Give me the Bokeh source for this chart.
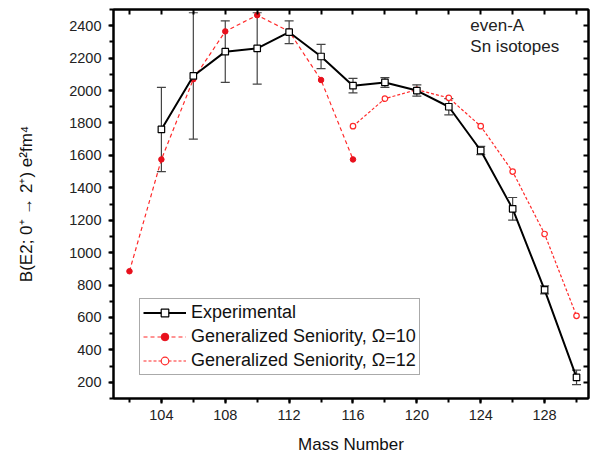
from bokeh.plotting import figure
from bokeh.models import (ColumnDataSource, Whisker, TeeHead, Legend, LegendItem,
                          LinearAxis, SingleIntervalTicker, FixedTicker, Label, Range1d)
from bokeh.embed import file_html
from bokeh.resources import INLINE

# ---- data ----
mass_exp = [104, 106, 108, 110, 112, 114, 116, 118, 120, 122, 124, 126, 128, 130]
be2_exp = [1760, 2090, 2240, 2260, 2360, 2210, 2030, 2050, 2000, 1900, 1630, 1270, 770, 230]
err_exp = [260, 390, 190, 220, 70, 75, 45, 30, 35, 50, 25, 70, 25, 45]

mass_o10 = [102, 104, 106, 108, 110, 112, 114, 116]
be2_o10 = [885, 1575, 2070, 2365, 2465, 2365, 2065, 1575]

mass_o12 = [116, 118, 120, 122, 124, 126, 128, 130]
be2_o12 = [1780, 1950, 2005, 1955, 1780, 1500, 1115, 610]

x_minor_ticks = list(range(102, 131, 2))
y_minor_ticks = list(range(200, 2500, 100))

FONT = "Liberation Sans"

src_exp = ColumnDataSource(dict(
    x=mass_exp, y=be2_exp,
    upper=[v + e for v, e in zip(be2_exp, err_exp)],
    lower=[v - e for v, e in zip(be2_exp, err_exp)],
))
src_o10 = ColumnDataSource(dict(x=mass_o10, y=be2_o10))
src_o12 = ColumnDataSource(dict(x=mass_o12, y=be2_o12))

p = figure(width=593, height=456, output_backend="svg", toolbar_location=None,
           x_range=Range1d(101, 130.75), y_range=Range1d(100, 2500),
           min_border_left=113, min_border_right=5, min_border_top=9, min_border_bottom=56)
p.grid.visible = False
p.outline_line_color = "black"
p.outline_line_width = 2
p.background_fill_color = "white"
p.border_fill_color = "white"

p.xaxis.ticker = SingleIntervalTicker(interval=4, num_minor_ticks=2)
p.yaxis.ticker = SingleIntervalTicker(interval=200, num_minor_ticks=2)

for ax in (p.xaxis[0], p.yaxis[0]):
    ax.axis_line_width = 2
    ax.axis_line_color = "black"
    ax.major_tick_line_width = 2
    ax.minor_tick_line_width = 2
    ax.major_tick_in = 0
    ax.major_tick_out = 5
    ax.minor_tick_in = 0
    ax.minor_tick_out = 4
    ax.major_label_text_font = FONT
    ax.major_label_text_font_size = "14.5px"
    ax.major_label_text_color = "#222222"
    ax.axis_label_text_font = FONT
    ax.axis_label_text_font_style = "normal"
    ax.axis_label_text_color = "#111111"

p.xaxis.axis_label = "Mass Number"
p.xaxis.axis_label_text_font_size = "17px"
p.xaxis.major_label_standoff = 6
p.xaxis.axis_label_standoff = 12

p.yaxis.axis_label = "B(E2; 0\u207a \u2192 2\u207a) e\u00b2fm\u2074"
p.yaxis.axis_label_text_font_size = "17px"
p.yaxis.major_label_standoff = 7
p.yaxis.axis_label_standoff = 30

# mirrored axes (top / right) with inward ticks only, no labels
top = LinearAxis(ticker=FixedTicker(ticks=[], minor_ticks=x_minor_ticks))
right = LinearAxis(ticker=FixedTicker(ticks=[], minor_ticks=y_minor_ticks))
for ax in (top, right):
    ax.major_label_standoff = 0
    ax.axis_line_width = 2
    ax.minor_tick_line_width = 2
    ax.major_tick_in = 0
    ax.major_tick_out = 0
    ax.minor_tick_in = 5
    ax.minor_tick_out = 0
p.add_layout(top, "above")
p.add_layout(right, "right")

# ---- glyphs ----
red = "#ff2a2a"
r10_line = p.line("x", "y", source=src_o10, line_color=red, line_width=1.2, line_dash="4 3")
r10_pts = p.scatter("x", "y", source=src_o10, marker="circle", size=5.5,
                    fill_color="#e8101c", line_color="#e8101c")
r12_line = p.line("x", "y", source=src_o12, line_color=red, line_width=1.2, line_dash="3 2")
r12_pts = p.scatter("x", "y", source=src_o12, marker="circle", size=5.5,
                    fill_color="white", line_color=red, line_width=1.2)

wh = Whisker(base="x", upper="upper", lower="lower", source=src_exp,
             line_color="#444444", line_width=1.2,
             upper_head=TeeHead(size=9, line_color="#444444", line_width=1.2),
             lower_head=TeeHead(size=9, line_color="#444444", line_width=1.2))
p.add_layout(wh)

exp_line = p.line("x", "y", source=src_exp, line_color="black", line_width=2)
exp_pts = p.scatter("x", "y", source=src_exp, marker="square", size=6.5,
                    fill_color="white", line_color="black", line_width=1.2)

legend = Legend(items=[
    LegendItem(label="Experimental", renderers=[exp_line, exp_pts]),
    LegendItem(label="Generalized Seniority, \u03a9=10", renderers=[r10_line, r10_pts]),
    LegendItem(label="Generalized Seniority, \u03a9=12", renderers=[r12_line, r12_pts]),
], location=(26, 23))
legend.label_text_font = FONT
legend.label_text_font_size = "18px"
legend.label_text_color = "#111111"
legend.glyph_width = 43
legend.glyph_height = 19
legend.label_height = 19
legend.label_standoff = 5
legend.spacing = 3
legend.padding = 3
legend.margin = 0
legend.border_line_color = "#555555"
legend.border_line_width = 1.2
legend.background_fill_color = "white"
legend.background_fill_alpha = 1
p.add_layout(legend, "center")

p.add_layout(Label(x=123.35, y=2340, text="even-A", text_font=FONT,
                   text_font_size="17px", text_color="#222222"))
p.add_layout(Label(x=123.35, y=2212, text="Sn isotopes", text_font=FONT,
                   text_font_size="17px", text_color="#222222"))

open("out.html", "w").write(file_html(p, INLINE))
